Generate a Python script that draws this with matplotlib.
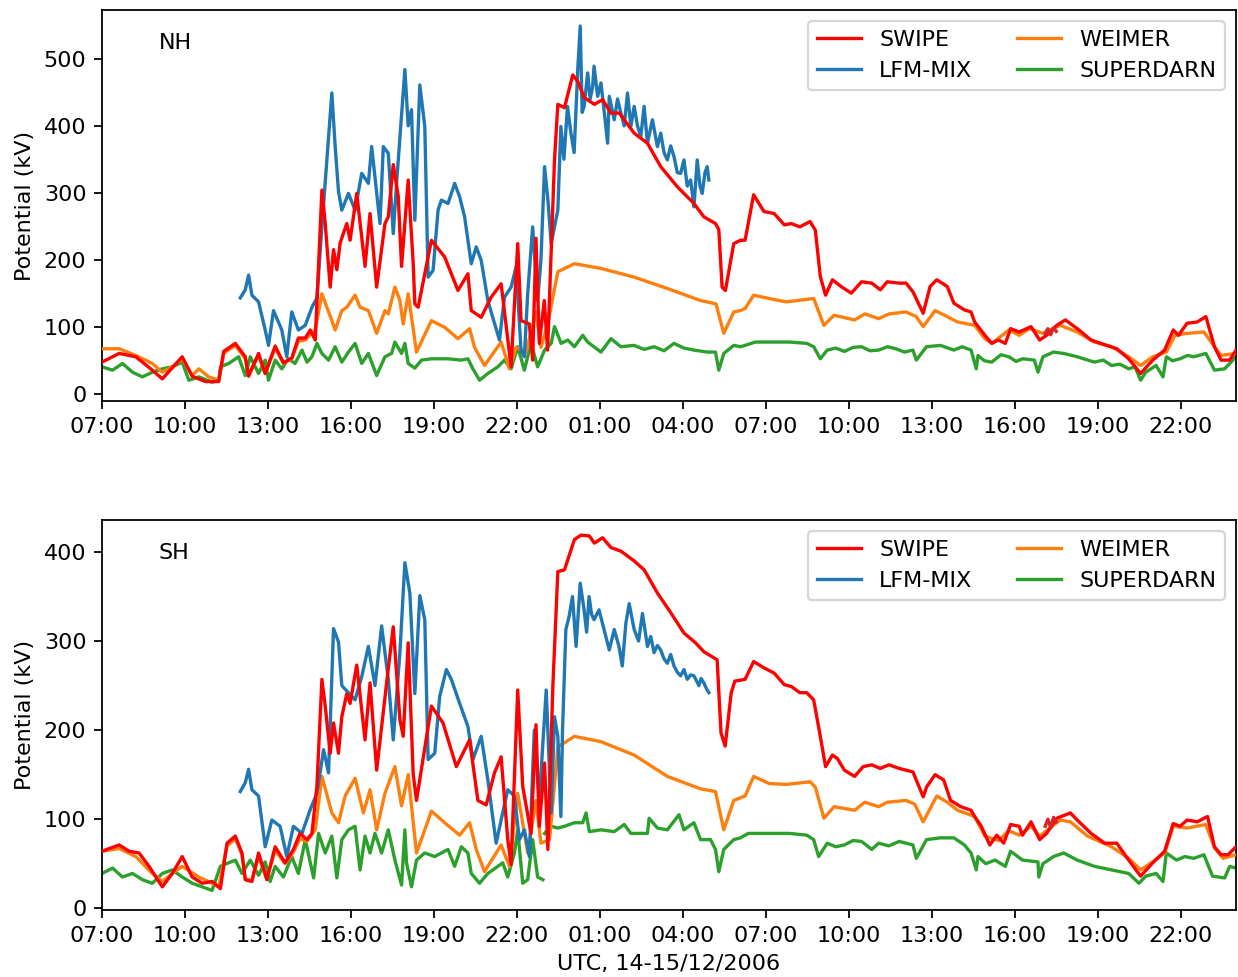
import numpy as np
import pandas as pd
import matplotlib
matplotlib.use("Agg")
import matplotlib.pyplot as plt
import matplotlib.dates as mdates
from matplotlib.ticker import MultipleLocator

# hours after 2006-12-14 07:00 UTC, potential in kV
t0 = pd.Timestamp("2006-12-14 07:00")

# ---------------- northern hemisphere ----------------
nh_swipe_t = [0.0, 0.62, 1.22, 1.82, 2.18, 2.90, 3.26, 3.74, 4.22, 4.40, 4.82, 5.18, 5.30, 5.66, 5.90,
              6.26, 6.56, 6.86, 7.10, 7.35, 7.53, 7.71, 7.95, 8.07, 8.25, 8.37, 8.49, 8.61, 8.85, 8.97,
              9.21, 9.51, 9.69, 9.93, 10.23, 10.35, 10.53, 10.71, 10.83, 11.07, 11.25, 11.31, 11.43,
              11.91, 12.39, 12.87, 13.23, 13.35, 13.71, 14.07, 14.43, 14.79, 15.03, 15.15, 15.45, 15.57,
              15.69, 15.81, 15.99, 16.11, 16.36, 16.48, 16.72, 17.02, 17.20, 17.44, 17.80, 18.10, 18.40,
              18.70, 19.24, 19.72, 20.20, 20.80, 21.40, 21.76, 22.18, 22.30, 22.42, 22.54, 22.84, 23.08,
              23.25, 23.56, 23.93, 24.30, 24.67, 24.92, 25.23, 25.60, 25.79, 25.97, 26.16, 26.41, 26.72,
              27.09, 27.46, 27.83, 28.14, 28.39, 28.82, 29.07, 29.32, 29.69, 29.94, 30.18, 30.56, 30.80,
              31.18, 31.42, 31.55, 31.92, 32.17, 32.41, 32.66, 32.85, 33.16, 33.59, 33.90, 34.15, 34.52,
              34.83, 35.26, 35.76, 36.25, 36.69, 37.12, 37.55, 37.99, 38.42, 38.73, 38.92, 39.23, 39.60,
              39.91, 40.22, 40.46, 40.77, 41.0]
nh_swipe_v = [47, 60, 55, 35, 22, 55, 26, 18, 18, 63, 75, 55, 26, 60, 30,
              71, 46, 53, 83, 83, 95, 80, 304, 254, 159, 215, 185, 225, 254, 229,
              299, 190, 269, 159, 254, 264, 342, 295, 190, 319, 195, 134, 129,
              229, 204, 154, 179, 124, 114, 144, 164, 40, 224, 109, 104, 50,
              232, 75, 139, 65, 349, 432, 427, 476, 466, 442, 432, 439, 419,
              419, 389, 374, 339, 309, 284, 264, 254, 245, 159, 154, 224, 229,
              229, 297, 272, 269, 252, 254, 249, 257, 244, 175, 147, 170, 160,
              150, 167, 165, 155, 167, 165, 165, 152, 120, 160, 170, 160, 135,
              125, 122, 107, 87, 75, 80, 75, 97, 92, 100, 80, 87, 102,
              110, 97, 80, 73, 67, 52, 30, 50, 65, 95, 87, 105, 107,
              115, 70, 50, 50, 65]

nh_lfm_t = [5.0, 5.18, 5.30, 5.42, 5.66, 5.90, 6.02, 6.20, 6.50, 6.68, 6.86, 7.10, 7.35, 7.59, 7.77,
            7.95, 8.31, 8.43, 8.55, 8.67, 8.91, 9.15, 9.39, 9.63, 9.75, 10.05, 10.17, 10.35, 10.53,
            10.65, 10.95, 11.07, 11.19, 11.31, 11.49, 11.67, 11.79, 11.97, 12.15, 12.27, 12.51, 12.75,
            12.93, 13.11, 13.35, 13.53, 13.71, 13.95, 14.19, 14.37, 14.55, 14.79, 14.97, 15.15, 15.27,
            15.39, 15.57, 15.75, 15.87, 16.0, 16.12, 16.24, 16.48, 16.59, 16.70, 16.83, 16.95, 17.07,
            17.20, 17.29, 17.36, 17.43, 17.56, 17.65, 17.74, 17.79, 17.92, 18.04, 18.16, 18.28, 18.34,
            18.52, 18.64, 18.76, 18.88, 19.0, 19.12, 19.24, 19.36, 19.48, 19.60, 19.72, 19.90, 20.08,
            20.20, 20.32, 20.44, 20.56, 20.68, 20.80, 20.92, 21.04, 21.16, 21.28, 21.40, 21.52, 21.62,
            21.70, 21.80, 21.88, 21.94]
nh_lfm_v = [143, 155, 177, 147, 137, 95, 72, 124, 95, 55, 122, 95, 102, 129, 143,
            249, 449, 369, 302, 274, 299, 274, 329, 314, 369, 254, 369, 359, 239,
            314, 484, 400, 424, 259, 461, 399, 174, 184, 274, 289, 284, 314,
            294, 264, 194, 219, 199, 139, 105, 80, 144, 159, 189, 65, 55,
            149, 249, 139, 200, 339, 290, 224, 274, 399, 350, 429, 390, 360,
            484, 549, 420, 429, 479, 440, 459, 489, 444, 464, 420, 374, 444,
            409, 440, 419, 400, 449, 399, 429, 400, 384, 429, 374, 409, 369,
            389, 360, 349, 370, 354, 330, 329, 349, 310, 319, 279, 349, 310,
            299, 330, 339, 319]

nh_weimer_t = [0.0, 0.62, 1.22, 1.82, 2.18, 2.54, 2.90, 3.26, 3.50, 3.86, 4.22, 4.40, 4.82, 5.18, 5.30,
               5.66, 5.90, 6.26, 6.56, 6.86, 7.10, 7.35, 7.53, 7.71, 7.95, 8.31, 8.43, 8.67, 8.85, 9.15,
               9.33, 9.63, 9.93, 10.23, 10.35, 10.59, 10.77, 10.89, 11.07, 11.37, 11.91, 12.39, 12.87,
               13.29, 13.47, 13.83, 14.43, 14.73, 14.97, 15.33, 15.69, 15.87, 16.12, 16.48, 17.08, 18.04,
               19.24, 20.44, 21.64, 22.20, 22.48, 22.84, 23.08, 23.25, 23.56, 24.12, 24.74, 25.73, 26.10,
               26.47, 27.21, 27.58, 28.08, 28.45, 29.07, 29.44, 29.69, 30.12, 30.56, 30.93, 31.55, 31.92,
               32.17, 32.79, 33.16, 33.53, 34.02, 34.64, 35.26, 35.88, 36.5, 37.12, 37.55, 37.99, 38.48,
               38.79, 39.23, 39.84, 40.22, 40.46, 41.0]
nh_weimer_v = [67, 67, 57, 45, 32, 40, 52, 27, 37, 25, 20, 60, 72, 52, 28,
               57, 30, 68, 45, 52, 78, 80, 88, 95, 149, 109, 95, 124, 129, 147,
               129, 124, 90, 124, 119, 159, 139, 104, 149, 62, 109, 99, 82,
               97, 69, 42, 77, 37, 69, 62, 122, 69, 105, 182, 194, 187,
               174, 157, 139, 134, 90, 122, 124, 127, 147, 142, 137, 142, 102,
               117, 110, 119, 112, 119, 122, 115, 100, 124, 115, 107, 102, 82,
               75, 95, 87, 97, 90, 102, 92, 77, 70, 55, 42, 55, 62,
               87, 90, 92, 70, 57, 60]

nh_sdarn_t = [0.0, 0.38, 0.74, 1.10, 1.46, 1.82, 2.18, 2.54, 2.90, 3.14, 3.50, 3.98, 4.22, 4.28, 4.58,
              4.94, 5.18, 5.36, 5.66, 5.90, 6.02, 6.26, 6.50, 6.74, 6.98, 7.23, 7.41, 7.59, 7.77, 7.95,
              8.19, 8.43, 8.67, 8.91, 9.15, 9.39, 9.63, 9.93, 10.23, 10.47, 10.59, 10.83, 10.95, 11.07,
              11.31, 11.55, 11.91, 12.51, 12.99, 13.23, 13.41, 13.65, 13.95, 14.31, 14.55, 14.79, 15.03,
              15.27, 15.51, 15.75, 16.0, 16.24, 16.36, 16.60, 16.84, 17.08, 17.38, 17.56, 18.04, 18.40,
              18.76, 19.24, 19.60, 19.96, 20.32, 20.68, 21.04, 21.40, 21.88, 22.18, 22.30, 22.48, 22.84,
              23.08, 23.25, 23.62, 24.24, 24.86, 25.48, 25.73, 25.97, 26.22, 26.53, 26.84, 27.15, 27.46,
              27.77, 28.08, 28.40, 28.70, 29.01, 29.32, 29.44, 29.81, 30.31, 30.80, 31.10, 31.42, 31.61,
              31.67, 31.90, 32.17, 32.50, 32.79, 33.05, 33.28, 33.71, 33.84, 34.02, 34.40, 34.77, 35.26,
              35.88, 36.20, 36.5, 36.80, 37.12, 37.35, 37.55, 37.74, 38.11, 38.36, 38.48, 38.70, 38.98,
              39.25, 39.47, 39.91, 40.22, 40.59, 41.0]
nh_sdarn_v = [40, 35, 45, 32, 25, 32, 37, 40, 47, 20, 25, 17, 20, 40, 45,
              55, 27, 55, 30, 50, 20, 50, 37, 52, 45, 65, 47, 55, 75, 60,
              50, 70, 47, 62, 75, 45, 60, 27, 55, 60, 77, 60, 75, 45,
              38, 50, 52, 52, 50, 52, 37, 20, 30, 40, 50, 37, 70,
              35, 75, 40, 65, 75, 100, 75, 80, 70, 87, 77, 62, 82,
              70, 72, 66, 70, 64, 75, 68, 65, 62, 62, 35, 60, 72,
              70, 72, 77, 77, 77, 75, 70, 52, 65, 68, 63, 69, 70,
              64, 65, 70, 67, 62, 65, 50, 70, 72, 65, 70, 65, 37,
              57, 49, 47, 58, 55, 48, 52, 50, 32, 55, 62, 60, 55,
              47, 50, 42, 44, 37, 40, 20, 32, 42, 25, 55, 49, 52,
              57, 55, 60, 35, 37, 55]

# ---------------- southern hemisphere ----------------
sh_swipe_t = [0.0, 0.62, 0.98, 1.34, 1.70, 2.18, 2.54, 2.90, 3.26, 3.62, 3.98, 4.28, 4.52, 4.82, 5.06,
              5.18, 5.42, 5.66, 5.96, 6.26, 6.62, 6.92, 7.16, 7.41, 7.59, 7.77, 7.95, 8.07, 8.25, 8.37,
              8.55, 8.67, 8.85, 8.97, 9.21, 9.51, 9.69, 9.93, 10.29, 10.53, 10.77, 10.89, 11.07, 11.25,
              11.37, 11.91, 12.33, 12.81, 13.29, 13.59, 13.89, 14.19, 14.43, 14.67, 14.79, 15.03, 15.21,
              15.51, 15.69, 15.81, 16.0, 16.12, 16.30, 16.48, 16.72, 17.08, 17.32, 17.62, 17.80, 18.10,
              18.40, 18.76, 19.24, 19.60, 20.08, 20.56, 21.04, 21.46, 21.76, 22.24, 22.38, 22.53, 22.75,
              22.88, 23.25, 23.56, 23.93, 24.30, 24.67, 24.92, 25.23, 25.48, 25.73, 25.97, 26.16, 26.41,
              26.59, 26.84, 27.21, 27.52, 27.83, 28.14, 28.45, 28.82, 29.32, 29.69, 29.81, 30.12, 30.43,
              30.68, 31.05, 31.42, 31.55, 31.79, 32.10, 32.35, 32.60, 32.85, 33.16, 33.28, 33.59, 33.90,
              34.15, 34.52, 35.01, 35.26, 35.76, 36.25, 36.69, 37.12, 37.55, 37.99, 38.42, 38.73, 38.98,
              39.23, 39.60, 39.97, 40.22, 40.46, 40.71, 41.0]
sh_swipe_v = [64, 71, 64, 62, 47, 24, 39, 58, 35, 28, 30, 22, 73, 81, 62,
              32, 30, 62, 32, 69, 51, 66, 84, 77, 84, 137, 257, 227, 174, 208,
              174, 215, 241, 230, 273, 189, 253, 155, 253, 316, 212, 193, 298, 151,
              121, 227, 208, 159, 189, 121, 116, 152, 170, 77, 49, 245, 137,
              84, 206, 92, 163, 66, 249, 378, 380, 414, 419, 418, 410, 416,
              405, 401, 390, 380, 354, 332, 309, 298, 288, 279, 197, 182, 242,
              255, 257, 277, 270, 264, 251, 249, 242, 242, 234, 193, 159, 172,
              168, 155, 148, 159, 161, 157, 161, 157, 153, 125, 136, 150, 144,
              121, 114, 110, 103, 92, 71, 82, 73, 94, 92, 82, 97, 77,
              84, 101, 107, 99, 84, 73, 73, 54, 36, 51, 64, 95, 92,
              99, 97, 103, 69, 60, 60, 69]

sh_lfm_t = [5.0, 5.18, 5.30, 5.42, 5.66, 5.90, 6.14, 6.44, 6.68, 6.92, 7.23, 7.53, 7.77, 8.01, 8.19,
            8.37, 8.55, 8.67, 8.91, 9.15, 9.39, 9.63, 9.87, 10.11, 10.35, 10.53, 10.77, 10.95, 11.13,
            11.31, 11.49, 11.67, 11.79, 12.03, 12.21, 12.45, 12.63, 12.93, 13.23, 13.41, 13.71, 13.95,
            14.25, 14.43, 14.67, 14.91, 15.09, 15.27, 15.45, 15.63, 15.81, 16.06, 16.24, 16.36, 16.48,
            16.59, 16.65, 16.77, 16.89, 17.01, 17.14, 17.29, 17.43, 17.52, 17.61, 17.70, 17.79, 17.97,
            18.15, 18.34, 18.52, 18.69, 18.81, 18.94, 19.06, 19.24, 19.40, 19.54, 19.72, 19.84, 19.96,
            20.08, 20.20, 20.32, 20.44, 20.56, 20.68, 20.80, 20.92, 21.04, 21.16, 21.28, 21.40, 21.58,
            21.66, 21.76, 21.86, 21.94]
sh_lfm_v = [131, 141, 156, 133, 126, 69, 99, 92, 58, 92, 84, 111, 129, 178, 152,
            314, 299, 250, 242, 234, 260, 294, 250, 317, 257, 189, 287, 388, 354,
            241, 351, 324, 167, 174, 238, 268, 257, 230, 204, 167, 193, 144,
            73, 99, 133, 126, 77, 88, 58, 200, 121, 245, 107, 215, 193,
            103, 200, 313, 328, 350, 294, 365, 335, 310, 350, 330, 324, 335,
            313, 290, 313, 294, 272, 320, 342, 313, 300, 331, 294, 305, 287,
            295, 290, 280, 275, 285, 272, 265, 261, 268, 257, 262, 261, 250,
            258, 253, 246, 242]

sh_weimer_t = [0.0, 0.62, 1.22, 1.82, 2.18, 2.54, 2.90, 3.50, 3.98, 4.22, 4.52, 4.82, 5.06, 5.18, 5.42,
               5.66, 5.96, 6.26, 6.62, 6.92, 7.16, 7.41, 7.71, 7.95, 8.31, 8.55, 8.79, 9.15, 9.45, 9.69,
               9.93, 10.23, 10.59, 10.83, 11.07, 11.37, 11.91, 12.39, 12.93, 13.29, 13.53, 13.83, 14.43,
               14.73, 15.03, 15.39, 15.69, 15.87, 16.18, 16.48, 17.08, 18.04, 19.24, 20.44, 21.64, 22.18,
               22.48, 22.84, 23.25, 23.56, 24.12, 24.74, 25.60, 25.79, 26.10, 26.47, 27.21, 27.58, 28.08,
               28.39, 29.07, 29.38, 29.69, 30.18, 30.56, 30.93, 31.55, 31.92, 32.41, 32.79, 33.16, 33.59,
               33.90, 34.15, 34.64, 35.01, 35.63, 36.5, 37.12, 37.55, 37.99, 38.42, 38.73, 39.23, 39.91,
               40.22, 40.53, 41.0]
sh_weimer_v = [64, 67, 58, 39, 30, 39, 47, 35, 28, 24, 70, 78, 60, 33, 31,
               58, 33, 65, 50, 63, 78, 75, 88, 148, 107, 96, 126, 146, 107, 133,
               88, 129, 159, 115, 150, 62, 109, 96, 82, 96, 66, 41, 71,
               47, 129, 62, 121, 73, 77, 181, 193, 187, 172, 148, 134, 131,
               88, 121, 126, 148, 140, 139, 142, 136, 101, 114, 110, 119, 114,
               119, 121, 117, 97, 126, 119, 110, 103, 81, 76, 87, 82, 92,
               81, 87, 99, 97, 81, 69, 56, 43, 52, 62, 92, 90, 94,
               68, 56, 60]

sh_sdarn_t = [0.0, 0.38, 0.74, 1.10, 1.46, 1.82, 2.18, 2.54, 2.90, 3.26, 3.62, 3.98, 4.28, 4.58, 4.82,
              5.06, 5.36, 5.66, 5.90, 6.08, 6.26, 6.56, 6.86, 7.10, 7.35, 7.65, 7.83, 8.07, 8.31, 8.49,
              8.67, 8.91, 9.15, 9.33, 9.51, 9.69, 9.87, 10.11, 10.35, 10.59, 10.83, 10.95, 11.01, 11.19,
              11.37, 11.67, 12.03, 12.51, 12.75, 12.99, 13.23, 13.35, 13.65, 13.95, 14.31, 14.49, 14.67,
              14.91, 15.03, 15.21, 15.39, 15.57, 15.75, 15.94, 15.97,
              16.0, 16.24, 16.48, 16.72, 17.08, 17.38, 17.50, 17.62, 18.04, 18.52, 18.88, 19.12, 19.72,
              19.78, 20.08, 20.44, 20.86, 21.04, 21.40, 21.64, 22.0, 22.18, 22.30, 22.48, 22.84, 23.08,
              23.37, 24.12, 24.86, 25.48, 25.73, 25.91, 26.22, 26.53, 26.84, 27.15, 27.46, 27.83, 28.08,
              28.45, 28.82, 29.32, 29.44, 29.81, 30.31, 30.80, 31.18, 31.42, 31.61, 31.67, 31.95, 32.29,
              32.66, 32.85, 33.28, 33.84, 33.87, 34.02, 34.40, 34.77, 35.26, 35.88, 36.5, 37.12, 37.49,
              37.74, 38.11, 38.36, 38.48, 38.85, 39.15, 39.47, 39.84, 40.15, 40.59, 40.77, 41.0]
sh_sdarn_v = [39, 45, 35, 39, 32, 28, 39, 43, 35, 28, 24, 20, 47, 51, 54,
              39, 54, 37, 52, 30, 47, 35, 58, 39, 77, 34, 84, 62, 81, 34,
              77, 88, 92, 43, 81, 62, 84, 62, 88, 54, 26, 88, 51, 24,
              54, 62, 58, 66, 47, 69, 62, 39, 28, 39, 47, 51, 35,
              62, 88, 28, 32, 77, 35, 32, np.nan,
              84, 92, 90, 92, 96, 96, 107, 86, 88, 86, 94, 84, 84,
              101, 90, 88, 105, 88, 96, 77, 77, 66, 41, 66, 77, 79,
              84, 84, 84, 82, 77, 58, 73, 69, 71, 76, 75, 66, 73,
              70, 75, 71, 56, 77, 79, 79, 71, 62, 43, 58, 50, 54,
              47, 64, 54, 52, 35, 50, 58, 62, 54, 47, 43, 39, 28,
              36, 39, 30, 62, 54, 58, 56, 60, 36, 34, 47, 45]

# short unlabelled trace near 17:00 on the 15th
nh_extra_t = [34.10, 34.20, 34.30, 34.40, 34.50]
nh_extra_v = [90, 97, 88, 98, 93]
sh_extra_t = [34.10, 34.20, 34.30, 34.40, 34.50]
sh_extra_v = [92, 100, 90, 102, 97]


def to_time(hours):
    return t0 + pd.to_timedelta(np.asarray(hours, dtype=float), unit="h")


dpi = 160
fig = plt.figure(figsize=(1238 / dpi, 977 / dpi), dpi=dpi)
ax1 = fig.add_axes([0.0824, 0.5896, 0.9160, 0.4002])
ax2 = fig.add_axes([0.0824, 0.0686, 0.9160, 0.3992])

panels = [
    (ax1, "NH", nh_swipe_t, nh_swipe_v, nh_lfm_t, nh_lfm_v, nh_weimer_t, nh_weimer_v,
     nh_sdarn_t, nh_sdarn_v, nh_extra_t, nh_extra_v, (-11, 573)),
    (ax2, "SH", sh_swipe_t, sh_swipe_v, sh_lfm_t, sh_lfm_v, sh_weimer_t, sh_weimer_v,
     sh_sdarn_t, sh_sdarn_v, sh_extra_t, sh_extra_v, (-2, 436)),
]

for (ax, name, sw_t, sw_v, lf_t, lf_v, we_t, we_v, sd_t, sd_v, ex_t, ex_v, ylim) in panels:
    l_sw, = ax.plot(to_time(sw_t), sw_v, color="red", label="SWIPE", zorder=5)
    l_lf, = ax.plot(to_time(lf_t), lf_v, color="tab:blue", label="LFM-MIX", zorder=4)
    l_we, = ax.plot(to_time(we_t), we_v, color="tab:orange", label="WEIMER", zorder=3)
    l_sd, = ax.plot(to_time(sd_t), sd_v, color="tab:green", label="SUPERDARN", zorder=2)
    ax.plot(to_time(ex_t), ex_v, color="tab:red", zorder=6)
    ax.legend(handles=[l_sw, l_lf, l_we, l_sd], ncol=2, loc="upper right")
    ax.text(0.05, 0.9, name, transform=ax.transAxes)
    ax.set_ylabel("Potential (kV)")
    ax.set_xlim(t0, t0 + pd.Timedelta(hours=41))
    ax.set_ylim(*ylim)
    ax.yaxis.set_major_locator(MultipleLocator(100))
    ax.xaxis.set_major_locator(mdates.HourLocator(byhour=range(1, 24, 3)))
    ax.xaxis.set_major_formatter(mdates.DateFormatter("%H:%M"))

ax2.set_xlabel("UTC, 14-15/12/2006")

fig.savefig("out.png", dpi=dpi)
